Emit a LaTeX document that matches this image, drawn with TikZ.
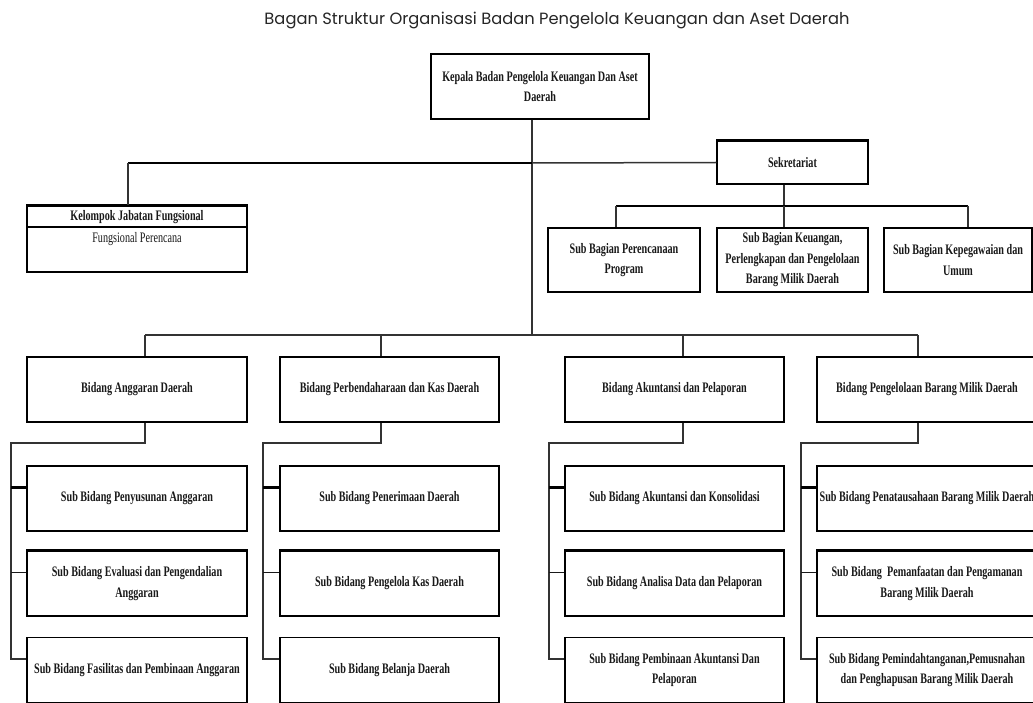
\documentclass[tikz,border=0pt]{standalone}
\usepackage{fontspec}
\setmainfont{Liberation Serif}
\newfontfamily\orgfont[FakeStretch=0.7]{Liberation Serif}
\newfontfamily\titlefont{Poppins}
\begin{document}
\begin{tikzpicture}[x=1pt,y=-1pt,
  box/.style={draw=black, line width=1.3pt, rectangle, inner sep=2pt, align=center,
    font=\orgfont\bfseries\fontsize{14.5}{20.5}\selectfont, text=black!90},
  lbl/.style={inner sep=0pt, align=center, text=black!90},
  bfl/.style={font=\orgfont\bfseries\fontsize{14.5}{20.5}\selectfont},
  rgl/.style={font=\orgfont\fontsize{14.5}{20.5}\selectfont},
  ln/.style={draw=black!80, line width=1.5pt},
  thk/.style={draw=black, line width=2.8pt},
  topline/.style={draw=black, line width=2.4pt}]
\useasboundingbox (0,0) rectangle (1033,703);
\fill[white] (0,0) rectangle (1033,703);

% title
\node[lbl, font=\titlefont\fontsize{16.3}{19}\selectfont, text=black!85] (title) at (557,21)
  {Bagan Struktur Organisasi Badan Pengelola Keuangan dan Aset Daerah};

% head
\node[box, minimum width=218pt, minimum height=65pt] (kepala) at (540,86.5)
  {Kepala Badan Pengelola Keuangan Dan Aset\\Daerah};

% kelompok jabatan fungsional
\node[box, minimum width=220pt, minimum height=66pt] (kjf) at (137,239) {};
\draw[topline] (kjf.north west) -- (kjf.north east);
\draw[draw=black, line width=1.9pt] ([yshift=-22pt]kjf.north west) -- ([yshift=-22pt]kjf.north east);
\node[lbl, bfl] (kjft) at (137,217) {Kelompok Jabatan Fungsional};
\node[lbl, rgl] (kjfs) at (137,239) {Fungsional Perencana};

% sekretariat
\node[box, minimum width=151pt, minimum height=43pt] (sek) at (792.5,162.5) {Sekretariat};
\draw[topline] (sek.north west) -- (sek.north east);
\node[box, minimum width=152pt, minimum height=64pt] (sb1) at (624,260) {Sub Bagian Perencanaan\\Program};
\node[box, minimum width=151pt, minimum height=64pt] (sb2) at (792.5,260) {Sub Bagian Keuangan,\\Perlengkapan dan Pengelolaan\\Barang Milik Daerah};
\node[box, minimum width=148pt, minimum height=64pt] (sb3) at (958,260) {Sub Bagian Kepegawaian dan\\Umum};

% bidang
\node[box, minimum width=220pt, minimum height=65pt] (bid1) at (137,389.5) {Bidang Anggaran Daerah};
\node[box, minimum width=219pt, minimum height=65pt] (bid2) at (389.5,389.5) {Bidang Perbendaharaan dan Kas Daerah};
\node[box, minimum width=219pt, minimum height=65pt] (bid3) at (674.5,389.5) {Bidang Akuntansi dan Pelaporan};
\node[box, minimum width=220pt, minimum height=65pt] (bid4) at (927,389.5) {Bidang Pengelolaan Barang Milik Daerah};

% sub bidang
\node[box, minimum width=220pt, minimum height=65pt] (s11) at (137,498.5) {Sub Bidang Penyusunan Anggaran};
\node[box, minimum width=220pt, minimum height=65pt] (s12) at (137,583.5) {Sub Bidang Evaluasi dan Pengendalian\\Anggaran};
\node[box, minimum width=220pt, minimum height=65pt] (s13) at (137,670) {Sub Bidang Fasilitas dan Pembinaan Anggaran};

\node[box, minimum width=219pt, minimum height=65pt] (s21) at (389.5,498.5) {Sub Bidang Penerimaan Daerah};
\node[box, minimum width=219pt, minimum height=65pt] (s22) at (389.5,583.5) {Sub Bidang Pengelola Kas Daerah};
\node[box, minimum width=219pt, minimum height=65pt] (s23) at (389.5,670) {Sub Bidang Belanja Daerah};

\node[box, minimum width=219pt, minimum height=65pt] (s31) at (674.5,498.5) {Sub Bidang Akuntansi dan Konsolidasi};
\node[box, minimum width=219pt, minimum height=65pt] (s32) at (674.5,583.5) {Sub Bidang Analisa Data dan Pelaporan};
\node[box, minimum width=219pt, minimum height=65pt] (s33) at (674.5,670) {Sub Bidang Pembinaan Akuntansi Dan\\Pelaporan};

\node[box, minimum width=220pt, minimum height=65pt] (s41) at (927,498.5) {Sub Bidang Penatausahaan Barang Milik Daerah};
\node[box, minimum width=220pt, minimum height=65pt] (s42) at (927,583.5) {Sub Bidang \ Pemanfaatan dan Pengamanan\\Barang Milik Daerah};
\node[box, minimum width=220pt, minimum height=65pt] (s43) at (927,670) {Sub Bidang Pemindahtanganan,Pemusnahan\\dan Penghapusan Barang Milik Daerah};

\foreach \n in {s12,s22,s32,s42}{\draw[topline] (\n.north west) -- (\n.north east);}

% junction coordinates
\coordinate (jA) at (532,163);
\coordinate (jB) at (532,335);
\coordinate (jK) at (128,163);
\coordinate (sB) at (784,206);
\coordinate (sL) at (616,206);
\coordinate (sR) at (968,206);
\coordinate (bL) at (145,335);
\coordinate (b2) at (381,335);
\coordinate (b3) at (683,335);
\coordinate (bR) at (918,335);

% top connectors
\draw[ln] (kepala.south -| jA) -- (jB);
\draw[thk] (jK) -- (jA);
\draw[ln] (jK) -- (kjf.north -| jK);
\draw[ln] (jA) -- (sek.west);

% sekretariat connectors
\draw[ln] (sek.south -| sB) -- (sB);
\draw[thk, line width=2.4pt] (sL) -- (sR);
\draw[ln] (sL) -- (sb1.north -| sL);
\draw[ln] (sB) -- (sb2.north -| sB);
\draw[ln] (sR) -- (sb3.north -| sR);

% bidang bus
\draw[ln] (bL) -- (bR);
\draw[ln] (bL) -- (bid1.north -| bL);
\draw[ln] (b2) -- (bid2.north -| b2);
\draw[ln] (b3) -- (bid3.north -| b3);
\draw[ln] (bR) -- (bid4.north -| bR);

% sub bidang connectors
\foreach \c/\bx/\sx in {1/145/11, 2/381/263, 3/683/549, 4/918/801}{
  \coordinate (e\c a) at (\bx,443);
  \coordinate (e\c b) at (\sx,443);
  \draw[ln] (bid\c.south -| e\c a) -- (e\c a) -- (e\c b) -- ([yshift=11pt]s\c3.west -| e\c b) -- ([yshift=11pt]s\c3.west);
  \draw[thk, line width=2.6pt] ([yshift=11pt]s\c1.west -| e\c b) -- ([yshift=11pt]s\c1.west);
  \draw[ln, draw=black!90, line width=1.7pt] ([yshift=11pt]s\c2.west -| e\c b) -- ([yshift=11pt]s\c2.west);
}
\end{tikzpicture}
\end{document}
